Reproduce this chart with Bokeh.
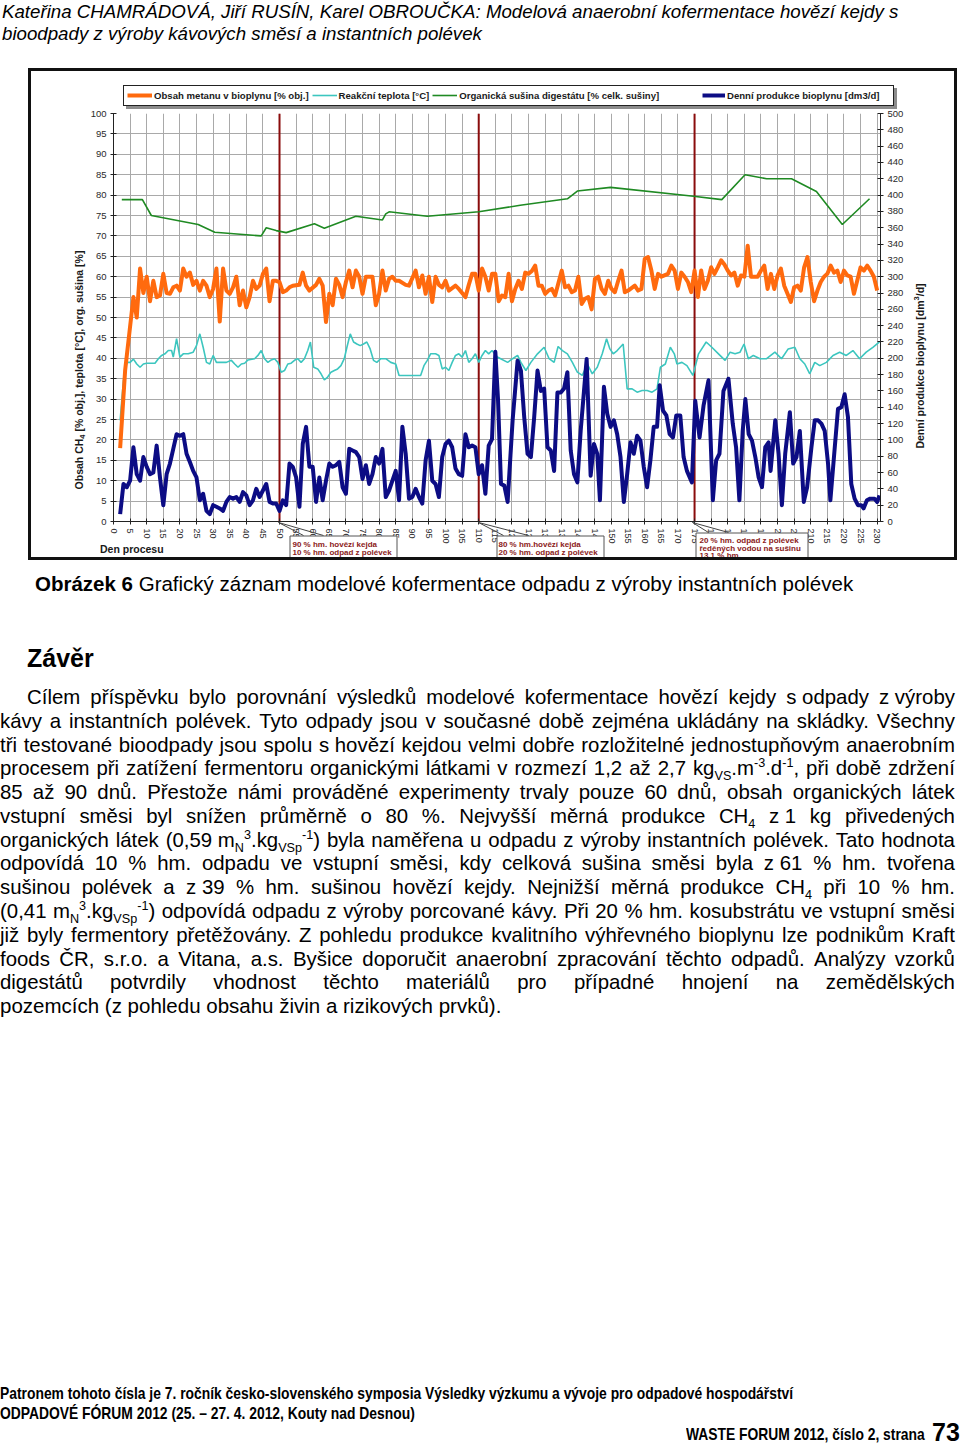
from bokeh.plotting import figure
from bokeh.models import (Range1d, LinearAxis, FixedTicker, Span, Label, BoxAnnotation,
                          Legend, LegendItem, Arrow, Div)
from bokeh.layouts import column
from bokeh.embed import file_html
from bokeh.resources import INLINE

FONT = "Liberation Sans"

# ---------------- data ----------------
day_ticks = list(range(0, 231, 5))
pct_ticks = list(range(0, 101, 5))
bio_ticks = list(range(0, 501, 20))
change_days = [50, 110, 175]

methane_day = [2, 3.5, 6, 7, 8, 9, 10, 11, 12, 13, 14, 15, 16, 17, 18, 19, 20, 21, 22, 23, 24, 25, 26, 27, 28, 29,
               30, 31, 32, 33, 34, 35, 36, 37, 38, 39, 40, 41, 42, 43, 44, 45, 46, 47, 48, 49, 50, 51, 52, 53, 54,
               56, 57, 58, 59, 61, 62, 63, 64, 65, 66, 67, 68, 69, 70, 71, 72, 73, 74, 75, 76, 77, 78, 79, 80, 81,
               82, 83, 84, 85, 86, 88, 89, 91, 92, 93, 94, 95, 96, 97, 98, 99, 100, 101, 103, 104, 106, 107, 108,
               109, 110, 111, 112, 113, 114, 115, 116, 117, 118, 119, 120, 121, 122, 123, 124, 125, 126, 127, 128,
               129, 130, 131, 132, 133, 135, 136, 137, 138, 139, 140, 141, 142, 143, 144, 145, 146, 147, 148, 149,
               150, 151, 152, 153, 154, 155, 157, 158, 159, 160, 161, 162, 163, 164, 165, 167, 168, 169, 170, 171,
               172, 173, 174, 175, 176, 177, 178, 179, 180, 181, 182, 183, 184, 185, 186, 187, 188, 189, 190, 191,
               192, 193, 194, 195, 196, 197, 198, 199, 200, 201, 202, 203, 204, 205, 206, 207, 208, 209, 210, 211,
               212, 213, 214, 215, 216, 217, 218, 219, 220, 221, 222, 223, 225, 226, 227, 228, 229, 230]
methane_val = [18, 37, 55, 50, 62, 56, 60, 54, 59, 55, 55.4, 60.7, 56, 55.8, 57.4, 57.8, 56.6, 62, 60, 61, 58, 59,
               56.6, 59, 57.8, 55, 57, 62, 49, 62, 56.6, 55.8, 57.4, 60, 53, 56.6, 52.5, 55, 59, 57, 57.8, 60.7,
               62, 54, 59, 59, 58.7, 56.2, 56.6, 57.4, 57.8, 58, 61, 57.8, 56.6, 58, 59.5, 57.8, 48.9, 55.8, 53,
               59.5, 58, 55, 58.7, 61.5, 57.4, 61.5, 60, 55.8, 60, 60, 60, 53, 55.8, 61.5, 56.6, 59.5, 60, 59, 59,
               58, 57.8, 61.5, 57.4, 60.3, 55.8, 60, 53.8, 60, 58, 57.4, 59, 56.6, 57.8, 57, 55, 58, 60.7, 60.7,
               56.6, 62, 60, 56.6, 60.7, 60.7, 54, 55.4, 55, 60.7, 54, 57, 59, 57, 61, 60.7, 61.4, 62.7, 57.8,
               57.8, 55.8, 56.6, 57, 55.4, 61.5, 57.4, 57.8, 56.2, 56.6, 60, 53.3, 54.6, 55, 52, 59.5, 60, 57,
               55.8, 59, 57, 56.2, 59, 61.5, 56.2, 56.6, 57.8, 56.6, 57, 64.4, 64.8, 61.5, 57, 60.7, 60, 60.7,
               62.7, 61.5, 57, 61, 60, 58.7, 56.2, 61.5, 55, 61.5, 57, 59, 62.3, 60.7, 62.3, 64, 63, 61.5, 60.3,
               61, 57.8, 60.3, 60, 67.6, 60, 60, 60, 61.5, 62.7, 57, 60.7, 57, 60.3, 62, 57.8, 55.8, 53.8, 57.4,
               57.8, 56.6, 62.3, 64.8, 58.7, 54, 56.6, 58.7, 60, 60.7, 62.7, 61, 61.5, 58.7, 61.5, 60.3, 60, 55.8,
               62.3, 61.5, 62.7, 61.5, 60, 56.6]

temp_day = [2, 3, 4, 5, 6, 7, 8, 9, 10, 11.5, 12.5, 13.5, 14.5, 15.5, 16.5, 17.5, 18, 19, 20, 21, 22.5, 24, 25,
            26, 27, 28, 29, 30, 31, 32.5, 34, 35.5, 36.5, 37.5, 38.5, 39.5, 40.5, 42.5, 43.5, 44.5, 45.5, 46.5,
            47.5, 48.5, 49.5, 50.5, 51.5, 52.5, 53.5, 54.5, 55.5, 56.5, 57.5, 58.5, 59.3, 60.3, 61.5, 62.5, 63.5,
            64.5, 65.5, 66.5, 67.5, 68.5, 69.5, 70.3, 71.3, 72.3, 73.3, 74.3, 75.3, 76.3, 77.3, 78.3, 79.3, 80.5,
            82, 83.5, 85, 86, 87.5, 89.5, 91.5, 92.5, 93.5, 94.5, 95.5, 97, 98, 99, 100, 101, 102, 103, 104, 105,
            106, 107, 108, 109, 110, 111, 112, 113, 114, 115.6, 116.6, 118.7, 120.2, 121.7, 122.7, 124.2, 125.7,
            127.7, 129.7, 131.2, 132.7, 133.9, 135.2, 136.7, 138.2, 139.7, 141.2, 142.7, 144.2, 145.7, 147.2,
            148.5, 149.5, 150.5, 151.7, 153.5, 154.7, 156.2, 157.7, 159.2, 160.7, 162.2, 163.7, 164.7, 166.2,
            167.7, 168.9, 169.7, 171.2, 172.7, 174.5, 176.2, 178.5, 180.2, 182.2, 184.2, 185.7, 187.2, 188.7,
            189.9, 191.2, 192.7, 194.7, 196.7, 199.2, 201.2, 203.2, 205.2, 206.7, 208.2, 209.7, 211.2, 212.7,
            214.7, 216.7, 218.7, 220.7, 222.7, 224.7, 226.7, 228.7, 230.7]
temp_val = [24.8, 34.6, 39, 39, 39.8, 38.6, 37.8, 38.6, 38.8, 38.8, 38.8, 39.9, 40.7, 41.1, 41.9, 41.9, 40.3,
            44.8, 40.3, 41.1, 41.1, 41.5, 43.1, 46, 42.7, 39, 38.6, 40.7, 39, 39, 39, 39.5, 38.6, 37.8, 38.6,
            38.8, 39.6, 39.9, 40.7, 41.9, 39.9, 39, 39.6, 39.9, 39, 36.6, 37, 38.6, 38.8, 39.5, 39.9, 39, 39.9,
            41.9, 44, 37.8, 37.4, 36.2, 34.7, 35.4, 36.6, 37, 37.4, 38.2, 39.9, 42.7, 46, 44, 43.5, 43.1, 43.5,
            44, 42.3, 39.5, 39, 39.9, 39.9, 39, 38.6, 35.8, 35.8, 35.8, 35.8, 35.8, 38.2, 39.5, 41.1, 41.1, 40.7,
            37.4, 37.8, 37, 39, 40.7, 41.1, 40.3, 41.9, 39, 39.9, 41.1, 39, 40.7, 41.9, 41.1, 41.9, 40.3, 39.9,
            39, 39.9, 40.7, 39, 37, 39, 41.1, 42.7, 39.9, 39, 42.9, 41.9, 41.1, 39, 36.6, 35.8, 38.6, 36.2, 37.8,
            41.1, 44.8, 42.3, 41.1, 41.9, 43.5, 32.5, 32.5, 31.7, 32.1, 32.1, 31.7, 32.5, 37.8, 38.6, 42.7, 41.1,
            38.6, 39, 38.2, 35.8, 41.1, 44, 42.7, 41.1, 39.5, 41.5, 41.1, 41.5, 43.5, 39.9, 40.7, 39.9, 39.9,
            41.5, 39.9, 42.3, 42.7, 39.9, 38.6, 36.2, 39, 38.2, 39, 40.7, 41.5, 40.7, 41.9, 39.9, 41.5, 42.7, 44]

odm_day = [2.5, 8.7, 11.4, 25.5, 30.5, 44.5, 46, 49, 52, 60.5, 63.5, 73, 81, 82, 83, 94.5, 110, 122.5, 136.7,
           139.7, 149.7, 174.7, 183.2, 190.2, 196.7, 204.2, 211.7, 219.5, 227.7]
odm_val = [78.9, 78.9, 75, 72.8, 70.9, 70, 72, 71.3, 70.8, 73, 71.9, 74.8, 73.9, 75.4, 75.9, 74.8, 75.9, 77.5,
           79.1, 81, 81.9, 79.7, 78.9, 85, 84, 84, 80.9, 72.8, 79.1]

biogas_day = [2, 3, 4, 5, 6, 7, 8, 9, 10, 11, 12, 13, 14, 15, 16, 17, 18, 19, 20, 21, 22, 23, 24, 25, 26, 27, 28,
              29, 30, 31, 32, 33, 34, 35, 36, 37, 38, 39, 40, 41, 42, 43, 44, 45, 46, 47, 48, 49, 50, 51, 52, 53,
              54, 55, 56, 57, 58, 59, 60, 61, 62, 63, 64, 65, 66, 67, 68, 69, 70, 71, 72, 73, 74, 75, 76, 77, 78,
              79, 80, 81, 82, 83, 84, 85, 86, 87, 88, 89, 90, 91, 92, 93, 94, 95, 96, 97, 98, 99, 100, 101, 102,
              103, 104, 105, 106, 107, 108, 109, 110, 111, 112, 113, 114, 115, 115.8, 116.7, 117.7, 118.7, 120.2,
              121.7, 122.7, 123.7, 124.7, 125.7, 126.7, 127.7, 128.7, 129.7, 130.7, 131.7, 132.7, 133.7, 134.7,
              135.7, 136.7, 137.7, 138.7, 139.7, 140.7, 141.7, 142.5, 143.7, 144.7, 145.7, 146.5, 147.7, 148.7,
              149.7, 150.7, 151.7, 152.7, 153.7, 154.7, 155.7, 156.7, 157.7, 158.7, 159.7, 160.7, 161.7, 162.7,
              163.7, 164.5, 165.5, 166.5, 167.5, 168.5, 169.5, 170.7, 171.7, 172.7, 174.2, 175.2, 176.5, 177.7,
              179.2, 180.5, 181.5, 182.5, 183.7, 185.2, 186.5, 187.5, 188.5, 189.5, 190.3, 191.3, 192.3, 193.3,
              194.3, 195.3, 196.3, 197.3, 197.9, 199.3, 200.3, 201.3, 202.3, 203.7, 204.7, 205.7, 206.7, 207.9,
              208.9, 210.2, 211.2, 212.2, 213.2, 214.2, 215.2, 215.9, 216.9, 218.2, 219.2, 220.2, 221.2, 222.2,
              223.2, 224.2, 225.2, 225.9, 226.9, 227.9, 229.2, 230, 230.7]
biogas_val = [9, 46, 42, 50, 91, 58, 50, 79, 67, 58, 60, 93, 54, 20, 58, 71, 89, 107, 105, 107, 83, 73, 62, 54,
              26, 34, 13, 9, 20, 18, 16, 13, 24, 30, 28, 30, 24, 36, 32, 20, 26, 40, 30, 38, 46, 24, 22, 22, 13,
              26, 20, 71, 67, 54, 18, 95, 116, 67, 67, 24, 54, 26, 50, 71, 67, 69, 73, 42, 34, 89, 87, 85, 79, 52,
              69, 46, 58, 79, 71, 89, 30, 38, 50, 62, 26, 116, 83, 28, 30, 40, 30, 22, 75, 99, 50, 46, 30, 79, 95,
              99, 91, 65, 58, 56, 107, 91, 93, 91, 58, 69, 34, 93, 101, 208, 150, 46, 44, 24, 124, 197, 185, 128,
              83, 79, 128, 185, 160, 163, 91, 87, 62, 158, 158, 163, 183, 87, 58, 48, 111, 160, 199, 56, 95, 83,
              26, 165, 132, 116, 124, 107, 79, 24, 58, 97, 83, 105, 99, 67, 42, 75, 116, 116, 167, 136, 130, 107,
              103, 130, 130, 79, 62, 48, 148, 103, 142, 173, 26, 75, 83, 160, 175, 120, 91, 26, 111, 150, 107, 99,
              79, 54, 42, 91, 97, 62, 124, 83, 20, 83, 134, 71, 79, 111, 24, 42, 91, 124, 124, 120, 111, 71, 26,
              75, 138, 140, 156, 128, 46, 28, 20, 20, 16, 26, 28, 28, 24, 32]

series_labels = ["Obsah metanu v bioplynu [% obj.]", "Reakční teplota [°C]",
                 "Organická sušina digestátu [% celk. sušiny]", "Denní produkce bioplynu [dm3/d]"]
phase_notes = [["90 % hm. hovězí kejda", "10 % hm. odpad z polévek"],
               ["80 % hm.hovězí kejda", "20 % hm. odpad z polévek"],
               ["20 % hm. odpad z polévek", "ředěných vodou na sušinu", "13.1 % hm."]]

COL_CH4, COL_TEMP, COL_ODM, COL_BIO = "#ff6a0e", "#3cc6bf", "#1f8a23", "#0c0c84"

# ---------------- chart: data, axes, grid ----------------
p = figure(width=960, height=515, output_backend="svg", toolbar_location=None, title=None,
           x_range=Range1d(0, 231), y_range=Range1d(0, 100),
           min_border_left=113, min_border_right=80, min_border_top=58, min_border_bottom=49,
           background_fill_color="white", border_fill_color="white", outline_line_color=None)
p.extra_y_ranges = {"bio": Range1d(0, 500)}

GRID = "#a9a9a9"
p.xgrid.ticker = FixedTicker(ticks=day_ticks)
p.ygrid.ticker = FixedTicker(ticks=pct_ticks)
p.xgrid.grid_line_color = GRID
p.ygrid.grid_line_color = GRID

xax = p.xaxis[0]
xax.ticker = FixedTicker(ticks=day_ticks)
xax.major_label_orientation = "vertical"
yax = p.yaxis[0]
yax.ticker = FixedTicker(ticks=pct_ticks)
rax = LinearAxis(y_range_name="bio", ticker=FixedTicker(ticks=bio_ticks))
p.add_layout(rax, "right")
for ax in (xax, yax, rax):
    ax.major_label_text_font = FONT
    ax.major_label_text_font_size = "9.5px"
    ax.major_label_text_color = "#2a2a2a"
    ax.axis_line_color = "#222222"
    ax.major_tick_line_color = "#222222"
    ax.major_tick_in = 3
    ax.major_tick_out = 3
    ax.minor_tick_line_color = None
    ax.major_label_standoff = 4
xax.major_label_text_font_size = "9px"

for d in change_days:
    p.add_layout(Span(location=d, dimension="height", line_color="#8a0c0c", line_width=2, level="underlay"))

r_temp = p.line(temp_day, temp_val, line_color=COL_TEMP, line_width=1.6)
r_odm = p.line(odm_day, odm_val, line_color=COL_ODM, line_width=1.6)
r_ch4 = p.line(methane_day, methane_val, line_color=COL_CH4, line_width=4, line_join="round")
r_bio = p.line(biogas_day, biogas_val, line_color=COL_BIO, line_width=4, line_join="round",
               y_range_name="bio")

# ---------------- overlay figure (frame aligned with p; y in canvas pixels): legend + callouts ----------------
ov = figure(width=960, height=515, output_backend="svg", toolbar_location=None, title=None,
            x_range=Range1d(113, 880), y_range=Range1d(515, 0), x_axis_type=None, y_axis_type=None,
            min_border=0, background_fill_alpha=0, border_fill_alpha=0, outline_line_color=None)
ov.margin = (-515, 0, 0, 0)

NAN = [float("nan")]
k_ch4 = ov.line(NAN, NAN, line_color=COL_CH4, line_width=4)
k_temp = ov.line(NAN, NAN, line_color=COL_TEMP, line_width=1.6)
k_odm = ov.line(NAN, NAN, line_color=COL_ODM, line_width=1.6)
k_bio = ov.line(NAN, NAN, line_color=COL_BIO, line_width=4)

common = dict(orientation="horizontal", padding=0, margin=0, spacing=3, glyph_height=12, label_height=12,
              label_standoff=2, label_text_font=FONT, label_text_font_size="9.6px",
              label_text_font_style="bold", label_text_color="#1a1a1a", border_line_color=None,
              background_fill_alpha=0)
leg1 = Legend(items=[LegendItem(label=series_labels[0], renderers=[k_ch4]),
                     LegendItem(label=series_labels[1], renderers=[k_temp]),
                     LegendItem(label=series_labels[2], renderers=[k_odm])],
              location=(14, 469), glyph_width=25, **common)
leg2 = Legend(items=[LegendItem(label=series_labels[3], renderers=[k_bio])], location=(589, 469),
              glyph_width=23, **common)
ov.add_layout(leg1)
ov.add_layout(leg2)

boxes = [(289.5, 396.5, 480.5, 502.5), (496.5, 603.5, 480.5, 502.5), (695.5, 807.5, 477.5, 503.5)]
leads = [(278, 303, 323, 480), (478, 503, 528, 480), (692, 708, 728, 477)]
tx = [292, 498, 699]
ty = [[488.5, 496.5], [488.5, 496.5], [485, 492.5, 500]]
for (l, r, tp, bt), (x0, e1, e2, ey), x, ys, note in zip(boxes, leads, tx, ty, phase_notes):
    ov.add_layout(Arrow(end=None, x_start=x0, y_start=467, x_end=e1, y_end=ey, line_color="#444444",
                        line_width=1))
    ov.add_layout(Arrow(end=None, x_start=x0, y_start=467, x_end=e2, y_end=ey, line_color="#444444",
                        line_width=1))
    ov.add_layout(BoxAnnotation(left=l, right=r, top=tp, bottom=bt, fill_color="white", fill_alpha=1,
                                line_color="#555555", line_width=1, line_alpha=1))
    for yy, s in zip(ys, note):
        ov.add_layout(Label(x=x, y=yy, text=s, text_align="left", text_baseline="alphabetic",
                            text_font=FONT, text_font_size="8px", text_font_style="bold",
                            text_color="#8b1a1a"))

# ---------------- decoration layer: outer frame, legend box, axis titles ----------------
def svg_text(s, extra):
    return (f"<text font-family='Liberation Sans, Arial, sans-serif' font-size='10.5' font-weight='bold' "
            f"fill='#1a1a1a' {extra}>{s}</text>")

deco_svg = "".join([
    "<svg xmlns='http://www.w3.org/2000/svg' width='960' height='515' "
    "style='position:absolute;left:0;top:0;display:block;'>",
    "<rect x='29.5' y='14.5' width='926' height='489' fill='none' stroke='#111' stroke-width='3'/>",
    "<rect x='123.5' y='30.5' width='770' height='20' fill='none' stroke='#222' stroke-width='1'/>",
    "<rect x='894' y='33' width='3' height='21' fill='#8c8c8c'/>",
    "<rect x='126' y='51' width='771' height='3' fill='#8c8c8c'/>",
    svg_text("Obsah CH<tspan font-size='7.5' dy='2.5'>4</tspan><tspan dy='-2.5'> [% obj.], teplota [°C], "
             "org. sušina [%]</tspan>",
             "text-anchor='middle' dominant-baseline='middle' transform='translate(80,315) rotate(-90)'"),
    svg_text("Denní produkce bioplynu [dm<tspan font-size='7.5' dy='-4'>3</tspan><tspan dy='4'>/d]</tspan>",
             "text-anchor='middle' dominant-baseline='middle' transform='translate(921,311) rotate(-90)'"),
    svg_text("Den procesu", "x='100' y='498'"),
    "</svg>"])
deco = Div(text=deco_svg, width=960, height=515, margin=(-515, 0, 0, 0))

# ---------------- page text ----------------
FF = "font-family:'Liberation Sans',Arial,Helvetica,sans-serif;"

header_html = (
    f"<div style=\"position:relative;width:960px;height:55px;{FF}font-style:italic;font-size:18.7px;"
    "line-height:22px;color:#000;\">"
    "<div style='position:absolute;left:2px;top:1px;white-space:nowrap;'>Kateřina CHAMRÁDOVÁ, Jiří RUSÍN, "
    "Karel OBROUČKA: Modelová anaerobní kofermentace hovězí kejdy s</div>"
    "<div style='position:absolute;left:2px;top:23px;white-space:nowrap;'>bioodpady z výroby kávových "
    "směsí a instantních polévek</div></div>")

NB = "\u00a0"
para_lines = [
    f"Cílem příspěvku bylo porovnání výsledků modelové kofermentace hovězí kejdy s{NB}odpady z{NB}výroby",
    "kávy a instantních polévek. Tyto odpady jsou v současné době zejména ukládány na skládky. Všechny",
    f"tři testované bioodpady jsou spolu s{NB}hovězí kejdou velmi dobře rozložitelné jednostupňovým anaerobním",
    "procesem při zatížení fermentoru organickými látkami v rozmezí 1,2 až 2,7 "
    "kg<sub>VS</sub>.m<sup>-3</sup>.d<sup>-1</sup>, při době zdržení",
    "85 až 90 dnů. Přestože námi prováděné experimenty trvaly pouze 60 dnů, obsah organických látek",
    f"vstupní směsi byl snížen průměrně o 80 %. Nejvyšší měrná produkce CH<sub>4</sub> z{NB}1 kg přivedených",
    f"organických látek (0,59{NB}m<sub>N</sub><sup>3</sup>.kg<sub>VSp</sub><sup>-1</sup>) byla naměřena u "
    "odpadu z výroby instantních polévek. Tato hodnota",
    f"odpovídá 10 % hm. odpadu ve vstupní směsi, kdy celková sušina směsi byla z{NB}61 % hm. tvořena",
    f"sušinou polévek a z{NB}39 % hm. sušinou hovězí kejdy. Nejnižší měrná produkce CH<sub>4</sub> při 10 % hm.",
    "(0,41 m<sub>N</sub><sup>3</sup>.kg<sub>VSp</sub><sup>-1</sup>) odpovídá odpadu z výroby porcované kávy. "
    "Při 20 % hm. kosubstrátu ve vstupní směsi",
    "již byly fermentory přetěžovány. Z pohledu produkce kvalitního výhřevného bioplynu lze podnikům Kraft",
    "foods ČR, s.r.o. a Vitana, a.s. Byšice doporučit anaerobní zpracování těchto odpadů. Analýzy vzorků",
    "digestátů potvrdily vhodnost těchto materiálů pro případné hnojení na zemědělských",
]
last_line = "pozemcích (z pohledu obsahu živin a rizikových prvků)."

parts = [f"<div style=\"position:relative;width:960px;height:875px;{FF}color:#000;\">",
         "<style>sub,sup{font-size:0.62em;line-height:0;}</style>",
         "<div style='position:absolute;left:35px;top:2px;font-size:20.5px;line-height:24px;white-space:nowrap;'>"
         "<b>Obrázek 6</b> Grafický záznam modelové kofermentace odpadu z výroby instantních polévek</div>",
         "<div style='position:absolute;left:27px;top:73.5px;font-size:25px;line-height:29px;font-weight:bold;'>"
         "Závěr</div>"]
for i, ln in enumerate(para_lines):
    top = 115 + 23.77 * i
    left = 27 if i == 0 else 0
    spans = "".join(f"<span>{w}</span>" for w in ln.split(" "))
    parts.append(f"<div style='position:absolute;left:{left}px;top:{top:.1f}px;width:{955 - left}px;"
                 f"display:flex;justify-content:space-between;white-space:nowrap;font-size:20.4px;"
                 f"line-height:24px;'>{spans}</div>")
parts.append(f"<div style='position:absolute;left:0px;top:{115 + 23.77 * 13:.1f}px;font-size:20.5px;"
             f"line-height:24px;white-space:nowrap;'>{last_line}</div>")
NARROW = "display:inline-block;transform:scaleX(0.815);transform-origin:0 0;"
parts.append(f"<div style='position:absolute;left:0px;top:813.7px;font-size:17px;line-height:19px;"
             f"font-weight:bold;white-space:nowrap;'><span style='{NARROW}'>Patronem tohoto čísla je 7. ročník "
             "česko-slovenského symposia Výsledky výzkumu a vývoje pro odpadové hospodářství</span></div>")
parts.append(f"<div style='position:absolute;left:0px;top:833.7px;font-size:17px;line-height:19px;"
             f"font-weight:bold;white-space:nowrap;'><span style='{NARROW}'>ODPADOVÉ FÓRUM 2012 "
             "(25. – 27. 4. 2012, Kouty nad Desnou)</span></div>")
parts.append(f"<div style='position:absolute;left:686px;top:854.7px;font-size:17px;line-height:19px;"
             f"font-weight:bold;white-space:nowrap;'><span style='{NARROW}'>WASTE FORUM 2012, číslo 2, "
             "strana</span></div>")
parts.append("<div style='position:absolute;left:932px;top:847.6px;font-size:25px;line-height:28px;"
             "font-weight:bold;white-space:nowrap;'>73</div>")
parts.append("</div>")
body_html = "".join(parts)

header = Div(text=header_html, width=960, height=55, margin=0)
body = Div(text=body_html, width=960, height=875, margin=0)
p.margin = 0

layout = column(header, p, ov, deco, body, spacing=0, margin=0)
open("out.html", "w").write(file_html(layout, INLINE))
